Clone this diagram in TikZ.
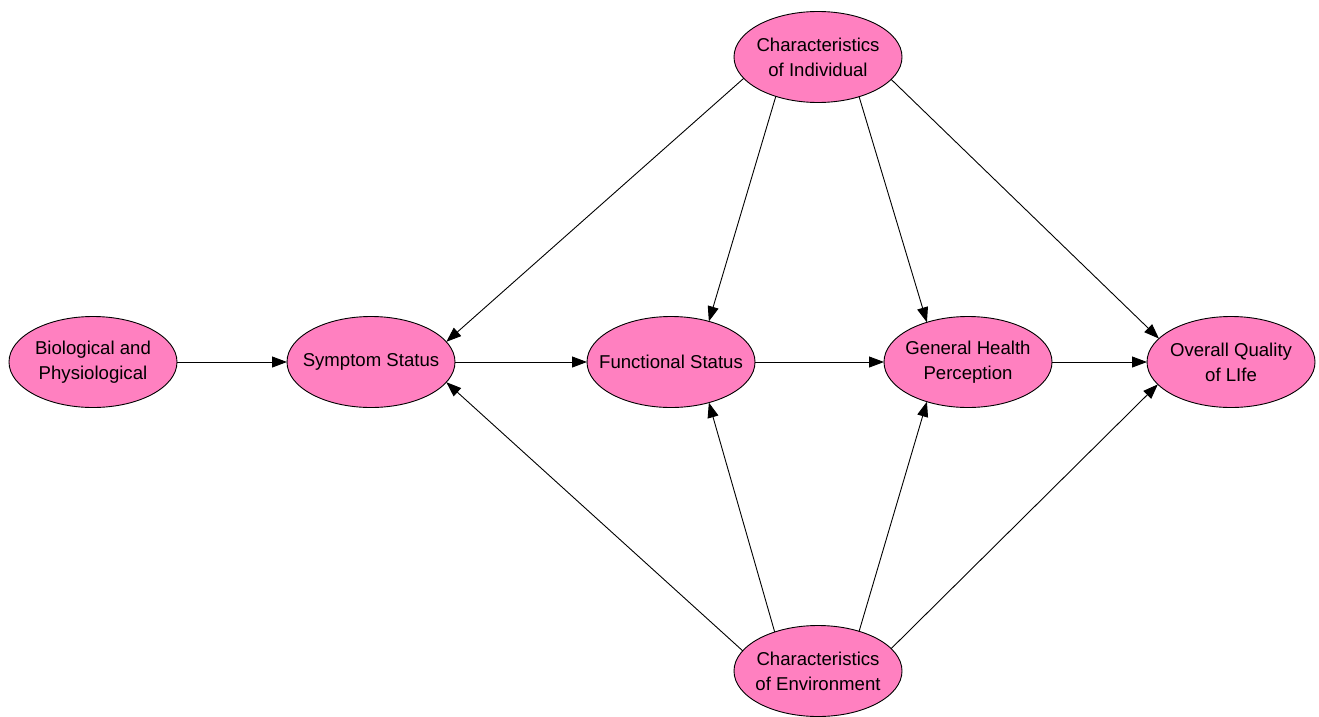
\documentclass[tikz,border=0pt]{standalone}
\usepackage{fontspec}
\setmainfont{Liberation Sans}
\usetikzlibrary{shapes.geometric,arrows.meta}
\definecolor{nodepink}{HTML}{FF80C0}
\begin{document}
\begin{tikzpicture}[x=1pt,y=-1pt,
  factor/.style={ellipse, draw=black, line width=0.9pt, fill=nodepink,
    minimum width=168pt, minimum height=91pt, inner xsep=-25pt, inner ysep=0pt,
    outer sep=0pt, align=center, font=\fontsize{18.6}{25}\selectfont},
  link/.style={line width=0.9pt, -{Triangle[length=15pt,width=11pt]}}]
\useasboundingbox (0,0) rectangle (1319,717);

% factors
\node[factor] (ind) at (818,57)   {Characteristics\\of Individual};
\node[factor] (bio) at (93,362)   {Biological and\\Physiological};
\node[factor] (sym) at (371,362)  {Symptom Status};
\node[factor] (fun) at (671,362)  {Functional Status};
\node[factor] (gen) at (968,362)  {General Health\\Perception};
\node[factor] (ovr) at (1231,362) {Overall Quality\\of LIfe};
\node[factor] (env) at (818,671)  {Characteristics\\of Environment};

% main chain
\draw[link] (bio.east) -- (sym.west);
\draw[link] (sym.east) -- (fun.west);
\draw[link] (fun.east) -- (gen.west);
\draw[link] (gen.east) -- (ovr.west);

% individual characteristics
\draw[link] (ind.196) -- (sym.15);
\draw[link] (ind.223) -- (fun.47);
\draw[link] (ind.316) -- (gen.136);
\draw[link] (ind.343) -- (ovr.162);

% environment characteristics
\draw[link] (env.165) -- (sym.345);
\draw[link] (env.138) -- (fun.313);
\draw[link] (env.44)  -- (gen.224);
\draw[link] (env.17)  -- (ovr.197);
\end{tikzpicture}
\end{document}
